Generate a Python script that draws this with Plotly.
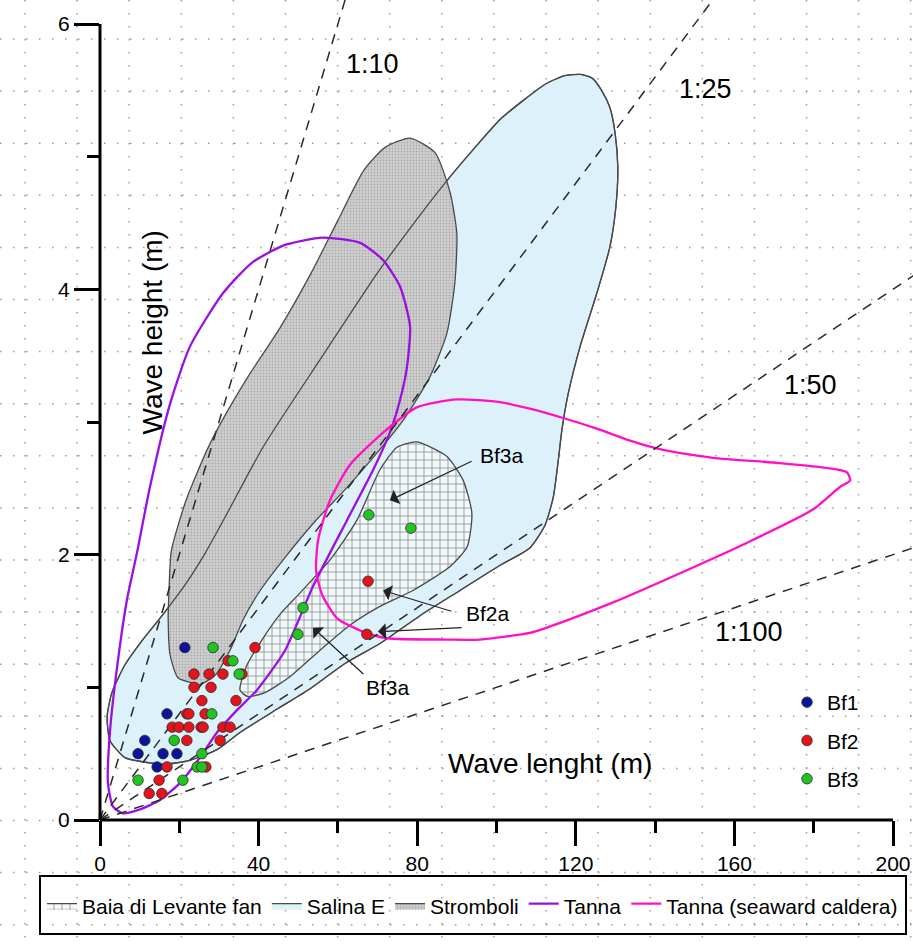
import plotly.graph_objects as go

# ---------------- data (wave length L [m], wave height H [m]) ----------------
bf1_L = [21.4, 16.9, 11.3, 9.6, 15.9, 19.4, 14.4]
bf1_H = [1.3, 0.8, 0.6, 0.5, 0.5, 0.5, 0.4]

bf2_L = [39.1, 32.3, 23.7, 27.5, 31.0, 35.8, 23.7, 28.0, 25.7, 34.3, 21.9, 22.4, 26.5,
         18.2, 19.9, 22.4, 25.5, 26.0, 31.0, 32.8, 21.9, 30.3, 16.9, 26.7, 14.9, 12.4, 15.6,
         67.6, 67.3]
bf2_H = [1.3, 1.2, 1.1, 1.1, 1.1, 1.1, 1.0, 1.0, 0.9, 0.9, 0.8, 0.8, 0.8,
         0.7, 0.7, 0.7, 0.7, 0.7, 0.7, 0.7, 0.6, 0.6, 0.4, 0.4, 0.3, 0.2, 0.2,
         1.8, 1.4]

bf3_L = [28.5, 33.5, 35.1, 28.2, 18.7, 25.7, 24.5, 25.7, 9.6, 20.9, 67.8, 78.4, 51.2, 49.9]
bf3_H = [1.3, 1.2, 1.1, 0.8, 0.6, 0.5, 0.4, 0.4, 0.3, 0.3, 2.3, 2.2, 1.6, 1.4]

salina_L = [16.4, 12.6, 6.3, 2.5, 1.8, 3.0, 6.3, 10.8, 15.9, 21.4, 26.5, 31.5, 41.1, 55.5,
            69.9, 78.2, 87.5, 94.6, 100.9, 107.0, 112.5, 117.2, 121.2, 124.2, 126.5, 128.6,
            129.9, 130.6, 130.1, 128.6, 125.3, 121.1, 118.0, 116.5, 115.5, 114.3, 112.2,
            108.4, 100.9, 90.8, 80.7, 70.6, 61.8, 52.5, 44.9, 35.3, 29.5, 22.7, 16.4]
salina_H = [0.42, 0.43, 0.47, 0.60, 0.78, 0.96, 1.17, 1.36, 1.55, 1.77, 2.01, 2.28, 2.81, 3.47,
            4.12, 4.46, 4.82, 5.07, 5.28, 5.43, 5.55, 5.61, 5.62, 5.59, 5.50, 5.37,
            5.18, 4.92, 4.62, 4.32, 3.97, 3.57, 3.20, 2.94, 2.69, 2.43, 2.22,
            2.05, 1.92, 1.73, 1.54, 1.33, 1.18, 0.98, 0.84, 0.66, 0.53, 0.45, 0.42]

stromboli_L = [23.7, 19.7, 17.7, 17.2, 17.4, 18.0, 21.7, 27.0, 30.8, 37.3, 45.4, 53.2, 60.0,
               66.6, 71.9, 78.2, 84.5, 88.3, 90.0, 89.5, 87.5, 83.2, 76.4, 69.4, 61.8, 54.2,
               46.7, 40.4, 36.1, 32.8, 29.0, 25.2, 23.7]
stromboli_H = [1.03, 1.07, 1.24, 1.51, 1.73, 2.03, 2.41, 2.79, 3.01, 3.34, 3.71, 4.12,
               4.52, 4.90, 5.07, 5.14, 5.03, 4.73, 4.42, 4.05, 3.67, 3.34, 3.01, 2.75,
               2.49, 2.25, 1.98, 1.73, 1.51, 1.28, 1.09, 1.02, 1.03]

baia_L = [35.3, 36.8, 40.9, 45.4, 50.4, 58.0, 64.8, 70.6, 74.9, 79.9, 87.5, 91.6, 93.8, 92.6,
          88.3, 78.9, 70.6, 63.1, 55.5, 47.9, 41.6, 37.3, 35.3]
baia_H = [0.98, 1.15, 1.36, 1.55, 1.71, 1.96, 2.26, 2.64, 2.81, 2.85, 2.74, 2.56, 2.31, 2.06,
          1.91, 1.73, 1.61, 1.47, 1.28, 1.08, 0.96, 0.93, 0.98]

tanna_L = [5.8, 3.3, 2.0, 2.5, 4.3, 6.8, 9.3, 12.6, 17.7, 22.7, 31.0, 38.3, 46.2, 56.2, 65.6,
           71.4, 75.7, 78.2, 77.4, 75.7, 73.1, 68.9, 62.3, 53.7, 46.7, 39.6, 34.6, 29.5,
           25.2, 20.2, 15.1, 10.1, 5.8]
tanna_H = [0.05, 0.10, 0.28, 0.66, 1.15, 1.66, 2.01, 2.51, 3.14, 3.57, 3.97, 4.20, 4.33, 4.39,
           4.35, 4.22, 4.02, 3.72, 3.41, 3.17, 2.92, 2.64, 2.26, 1.76, 1.28, 0.98, 0.83,
           0.66, 0.47, 0.28, 0.15, 0.08, 0.05]

seaward_L = [189.2, 188.4, 184.1, 171.5, 154.6, 142.0, 133.7, 125.3, 116.8, 108.4, 100.9, 90.0,
             79.9, 71.4, 63.1, 58.0, 55.0, 54.5, 56.0, 59.8, 66.3, 72.4, 87.5, 95.8, 108.4,
             112.7, 129.4, 146.3, 163.2, 179.8, 186.6, 189.2]
seaward_H = [2.56, 2.62, 2.65, 2.69, 2.73, 2.79, 2.86, 2.95, 3.03, 3.10, 3.15, 3.17,
             3.11, 2.92, 2.68, 2.41, 2.11, 1.88, 1.70, 1.52, 1.42, 1.37, 1.36, 1.36, 1.41,
             1.45, 1.64, 1.86, 2.09, 2.34, 2.51, 2.56]

steepness = [10, 25, 50, 100]
steep_labels = ["1:10", "1:25", "1:50", "1:100"]
steep_label_pos = [(68.6, 5.70), (152.8, 5.51), (179.1, 3.28), (163.7, 1.42)]

x_ticks = [0, 40, 80, 120, 160, 200]
x_minor = [20, 60, 100, 140, 180]
y_ticks = [0, 2, 4, 6]
y_minor = [1, 3, 5]

# ---------------- layout geometry ----------------
W, H = 913, 947
ML, MR, MT, MB = 100, 0, 0, 127
PW, PH = W - ML - MR, H - MT - MB
X_RANGE = [0, 200 * PW / 793.0]
Y_RANGE = [0, 6 * PH / 796.0]

FONT = "Liberation Sans, Arial, sans-serif"
OUTLINE = "#4a4a4a"
SMOOTH = 0.6


def px2paper_x(px):
    return (px - ML) / PW


def px2paper_y(py):
    return (H - MB - py) / PH


fig = go.Figure()

# Salina E (fill)
fig.add_trace(go.Scatter(
    x=salina_L, y=salina_H, mode="lines", fill="toself", name="Salina E",
    fillcolor="#ddf1fa", line=dict(color=OUTLINE, width=1.3, shape="spline", smoothing=SMOOTH),
    legendrank=2, hoverinfo="skip"))

# Stromboli
fig.add_trace(go.Scatter(
    x=stromboli_L, y=stromboli_H, mode="lines", fill="toself", name="Stromboli",
    fillcolor="#cfcfcf",
    fillpattern=dict(shape=".", fgcolor="#8a8a8a", size=3, solidity=0.3, fillmode="overlay"),
    line=dict(color=OUTLINE, width=1.3, shape="spline", smoothing=SMOOTH),
    legendrank=3, hoverinfo="skip"))

# Salina outline again (visible through Stromboli)
fig.add_trace(go.Scatter(
    x=salina_L, y=salina_H, mode="lines", showlegend=False,
    line=dict(color=OUTLINE, width=1.3, shape="spline", smoothing=SMOOTH), hoverinfo="skip"))

# Baia di Levante fan
fig.add_trace(go.Scatter(
    x=baia_L, y=baia_H, mode="lines", fill="toself", name="Baia di Levante fan",
    fillcolor="rgba(246,250,252,0.85)",
    fillpattern=dict(shape="+", fgcolor="#3a3a3a", size=8, solidity=0.22, fillmode="overlay"),
    line=dict(color=OUTLINE, width=1.3, shape="spline", smoothing=SMOOTH),
    legendrank=1, hoverinfo="skip"))

# Tanna
fig.add_trace(go.Scatter(
    x=tanna_L, y=tanna_H, mode="lines", name="Tanna",
    fill="toself", fillcolor="rgba(0,0,0,0)",
    line=dict(color="#9a10e0", width=2.3, shape="spline", smoothing=SMOOTH),
    legendrank=4, hoverinfo="skip"))

# Tanna (seaward caldera)
fig.add_trace(go.Scatter(
    x=seaward_L, y=seaward_H, mode="lines", name="Tanna (seaward caldera)",
    fill="toself", fillcolor="rgba(0,0,0,0)",
    line=dict(color="#ff10c8", width=2.3, shape="spline", smoothing=SMOOTH),
    legendrank=5, hoverinfo="skip"))

# steepness lines
for r in steepness:
    Ls = [0, 400]
    fig.add_trace(go.Scatter(
        x=Ls, y=[v / r for v in Ls], mode="lines", showlegend=False,
        line=dict(color="#2a2a2a", width=1.5, dash="10px,8px"), hoverinfo="skip"))

# points
for name, Lx, Hy, col, grp in [("Bf1", bf1_L, bf1_H, "#0b159c", "g1"),
                               ("Bf2", bf2_L, bf2_H, "#e3141b", "g2"),
                               ("Bf3", bf3_L, bf3_H, "#22c422", "g3")]:
    fig.add_trace(go.Scatter(
        x=Lx, y=Hy, mode="markers", name=name, legend="legend2", legendgroup=grp,
        marker=dict(size=10.5, color=col, line=dict(color="#2a2a2a", width=0.8))))

# ---------------- shapes: page grid, axis lines, legend frame ----------------
shapes = []
GRID = 52.1
for k in range(18):
    px = 25 + GRID * k
    shapes.append(dict(type="line", xref="paper", yref="paper", layer="below",
                       x0=px2paper_x(px), x1=px2paper_x(px), y0=px2paper_y(0), y1=px2paper_y(H),
                       line=dict(color="#9c9c9c", width=1.5, dash="1.5px,11.5px")))
for k in range(18):
    py = 39 + GRID * k
    shapes.append(dict(type="line", xref="paper", yref="paper", layer="below",
                       x0=px2paper_x(0), x1=px2paper_x(W), y0=px2paper_y(py), y1=px2paper_y(py),
                       line=dict(color="#9c9c9c", width=1.5, dash="1.5px,11.5px")))

shapes.append(dict(type="line", xref="paper", yref="paper", layer="above",
                   x0=0, x1=x_ticks[-1] / X_RANGE[1], y0=0, y1=0,
                   line=dict(color="black", width=3)))
shapes.append(dict(type="line", xref="paper", yref="paper", layer="above",
                   x0=0, x1=0, y0=0, y1=y_ticks[-1] / Y_RANGE[1],
                   line=dict(color="black", width=3)))
shapes.append(dict(type="rect", xref="paper", yref="paper", layer="above",
                   x0=px2paper_x(40), x1=px2paper_x(906), y0=px2paper_y(876), y1=px2paper_y(934),
                   line=dict(color="black", width=2), fillcolor="rgba(0,0,0,0)"))

# ---------------- annotations ----------------
ann = []
ann.append(dict(text="Wave height (m)", xref="paper", yref="paper", x=px2paper_x(134),
                y=px2paper_y(229), textangle=-90, showarrow=False,
                font=dict(size=28, color="black", family=FONT)))
ann.append(dict(text="Wave lenght (m)", xref="paper", yref="paper", x=px2paper_x(550),
                y=px2paper_y(781), showarrow=False,
                font=dict(size=28, color="black", family=FONT)))
for lab, (lx, ly) in zip(steep_labels, steep_label_pos):
    ann.append(dict(text=lab, x=lx, y=ly, xref="x", yref="y", showarrow=False,
                    font=dict(size=27, color="black", family=FONT)))

arrows = [(73.1, 2.41, 94.1, 2.71),
          (71.4, 1.73, 89.0, 1.57),
          (70.1, 1.42, 91.6, 1.45),
          (53.7, 1.45, 66.8, 1.09)]
for hx, hy, tx, ty in arrows:
    ann.append(dict(text="", x=hx, y=hy, ax=tx, ay=ty, xref="x", yref="y", axref="x", ayref="y",
                    showarrow=True, arrowhead=1, arrowsize=2.2, arrowwidth=1.2,
                    arrowcolor="#222222", standoff=0, startstandoff=0))
for lab, lx, ly in [("Bf3a", 101.4, 2.75), ("Bf2a", 97.9, 1.56), ("Bf3a", 72.6, 1.00)]:
    ann.append(dict(text=lab, x=lx, y=ly, xref="x", yref="y", showarrow=False,
                    font=dict(size=21, color="black", family=FONT)))

fig.update_layout(
    width=W, height=H, margin=dict(l=ML, r=MR, t=MT, b=MB, pad=0),
    paper_bgcolor="white", plot_bgcolor="rgba(0,0,0,0)",
    font=dict(family=FONT, color="black"),
    shapes=shapes, annotations=ann,
    legend=dict(orientation="h", x=px2paper_x(42), y=px2paper_y(906), xanchor="left",
                yanchor="middle", bgcolor="rgba(0,0,0,0)", borderwidth=0,
                font=dict(size=21, family=FONT, color="black"), itemwidth=30,
                traceorder="normal"),
    legend2=dict(orientation="v", x=px2paper_x(787), y=px2paper_y(682), xanchor="left",
                 yanchor="top", bgcolor="rgba(0,0,0,0)", borderwidth=0,
                 font=dict(size=21, family=FONT, color="black"), itemwidth=30,
                 tracegroupgap=8),
    xaxis=dict(range=X_RANGE, tickvals=x_ticks, ticks="outside", ticklen=25, tickwidth=3,
               tickcolor="black", showline=False, showgrid=False, zeroline=False,
               tickfont=dict(size=21, family=FONT, color="black"),
               minor=dict(tickvals=x_minor, ticks="outside", ticklen=12, tickwidth=3,
                          tickcolor="black", showgrid=False)),
    yaxis=dict(range=Y_RANGE, tickvals=y_ticks, ticks="outside", ticklen=25, tickwidth=3,
               tickcolor="black", showline=False, showgrid=False, zeroline=False,
               tickfont=dict(size=21, family=FONT, color="black"),
               minor=dict(tickvals=y_minor, ticks="outside", ticklen=12, tickwidth=3,
                          tickcolor="black", showgrid=False)),
)

fig.write_html("out.html")
